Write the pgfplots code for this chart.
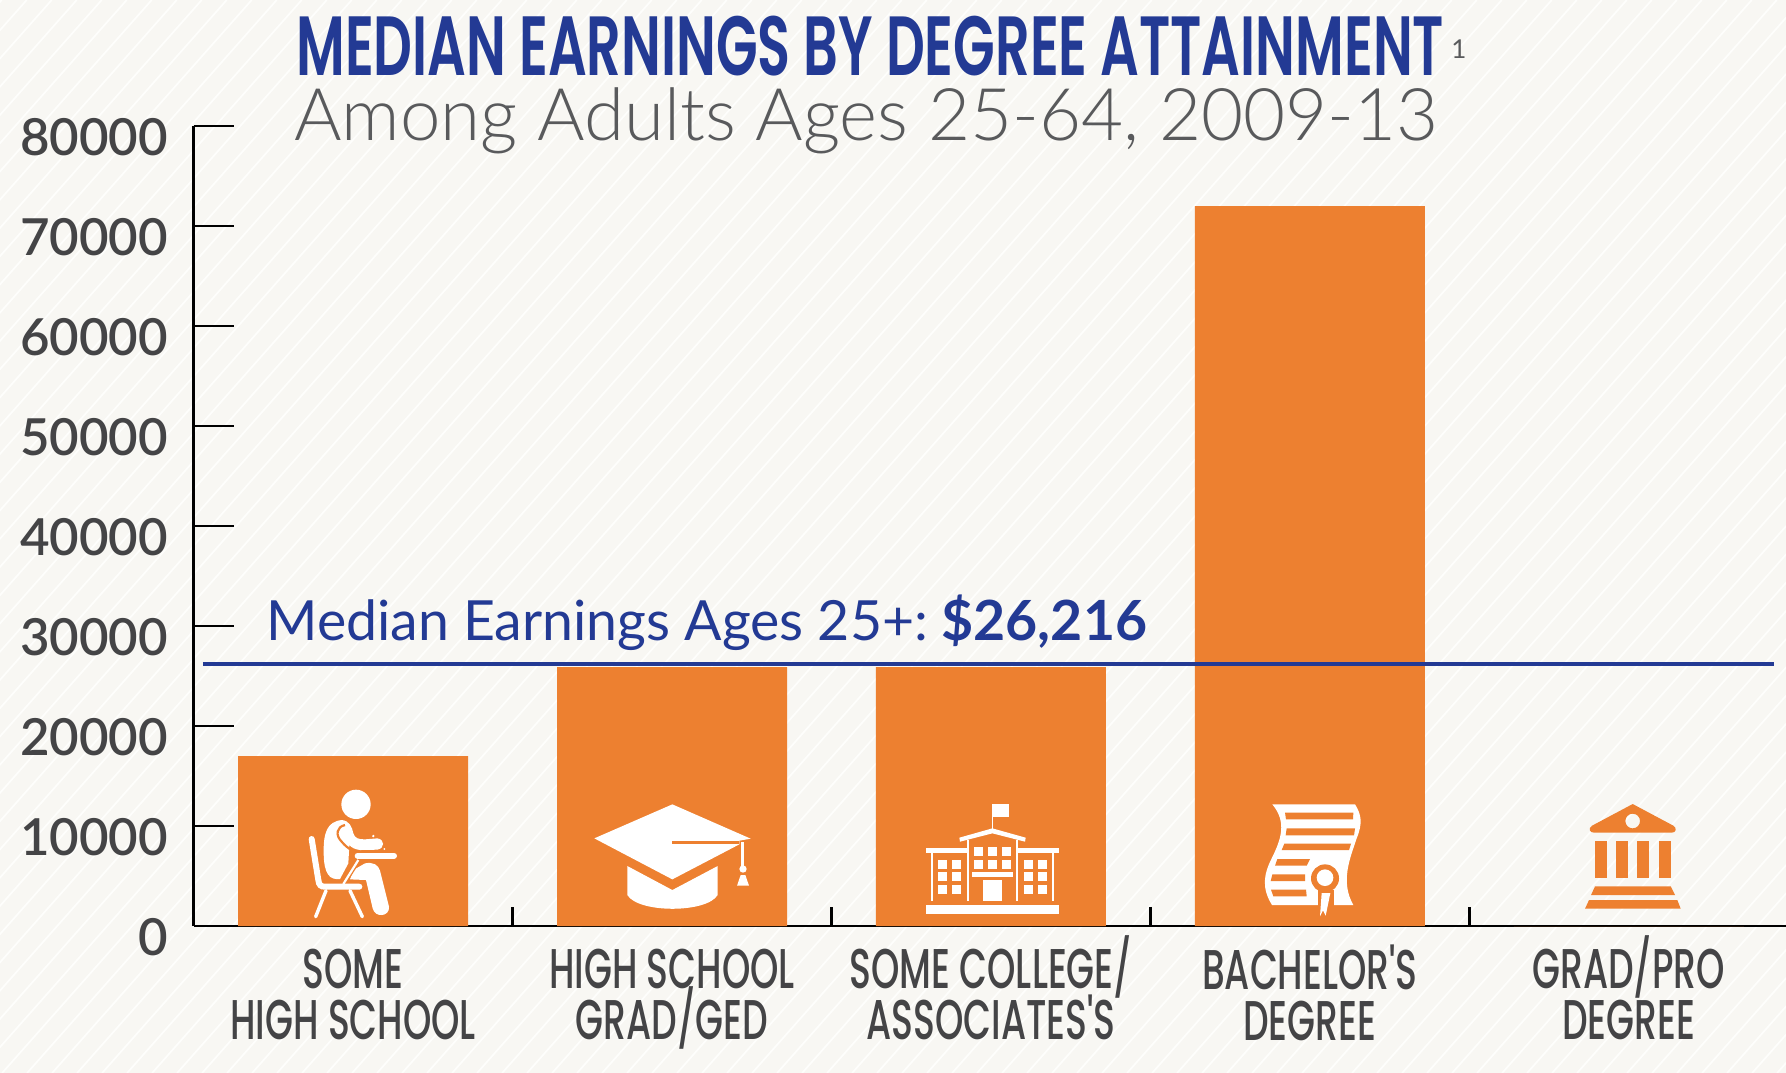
\documentclass[border=0pt]{standalone}
\usepackage{fontspec}
\usepackage{pgfplots}
\pgfplotsset{compat=1.18}

% condensed display face stands in for the rounded one of the original
\newfontfamily\titlefont[FakeStretch=0.645,UprightFont=* SemiBold]{Poppins}
\newfontfamily\catfont[FakeStretch=0.645,UprightFont=* Medium]{Poppins}
\newfontfamily\subfont[UprightFont=* Light]{Lato}
\newfontfamily\numfont[UprightFont=* Semibold]{Lato}
\newfontfamily\notefont{Lato}

\definecolor{paper}{HTML}{F8F7F3}
\definecolor{stripe}{HTML}{FEFEFC}
\definecolor{barorange}{HTML}{ED8030}
\definecolor{navy}{HTML}{233A94}
\definecolor{greytxt}{HTML}{595A5C}
\definecolor{darktxt}{HTML}{444446}

\pgfplotstableread{
x y
0 17000
1 25900
2 25900
3 72000
4 0
}\earnings

% two-line category label with fixed height, so the lines sit level across the axis
\newcommand\cat[2]{\rule{0pt}{22pt}#1\\#2\rule[-6pt]{0pt}{6pt}}
\newcommand\catslash{\smash{/}}

% icon scopes: zoom coordinates, 3 units to the reference pixel
\tikzset{icon/.style 2 args={shift={(#1*0.5pt,-#2*0.5pt)},x=0.16667pt,y=-0.16667pt}}

\begin{document}
\begin{tikzpicture}
% page and its stripes, in reference pixels
\begin{scope}[x=0.5pt,y=-0.5pt]
  \fill[paper] (0,0) rectangle (1786,1073);
  \clip (0,0) rectangle (1786,1073);
  \foreach \c in {1.7,26.7,...,2780}
    \draw[stripe,line width=0.85pt] (\c,0) -- (\c-949.6,1073);
\end{scope}

\begin{axis}[
  at={(96.85pt,-463pt)}, anchor=south west,
  scale only axis, width=797.25pt, height=400pt,
  xmin=-0.5, xmax=4.5, ymin=0, ymax=80000,
  axis x line*=bottom, axis y line*=left,
  axis line style={black,line width=1.25pt},
  tick align=inside,
  xtick={0,1,2,3,4},
  xticklabels={{\cat{SOME}{HIGH SCHOOL}},{\cat{HIGH SCHOOL}{GRAD\catslash GED}},{\cat{SOME COLLEGE\catslash}{ASSOCIATES'S}},{\cat{BACHELOR'S}{DEGREE}},{\cat{GRAD\catslash PRO}{DEGREE}}},
  minor xtick={0.5,1.5,2.5,3.5},
  major x tick style={draw=none},
  minor x tick style={black,line width=1.25pt},
  minor tick length=9.5pt,
  ytick={0,10000,...,80000},
  major y tick style={black,line width=1.25pt},
  major tick length=20pt,
  scaled y ticks=false,
  /pgf/number format/assume math mode=true,
  /pgf/number format/set thousands separator={},
  yticklabel style={font=\numfont\fontsize{25.5}{27}\selectfont,text=darktxt,xshift=-9.3pt,yshift=-5.7pt},
  xticklabel style={font=\catfont\fontsize{28}{25.4}\selectfont,text=darktxt,align=center,inner sep=0pt,anchor=north,yshift=-9.25pt},
]
\addplot[ybar,bar width=115pt,bar shift=0pt,fill=barorange,draw=none] table[x=x,y=y] {\earnings};
\addplot[navy,line width=2.3pt] coordinates {(-0.471,26216) (4.456,26216)};
\end{axis}

% titles
\begin{scope}[x=0.5pt,y=-0.5pt]
  \node[anchor=base west,inner sep=0pt,text=navy,font=\titlefont\fontsize{42}{44}\selectfont] at (296,75) {MEDIAN EARNINGS BY DEGREE ATTAINMENT};
  \node[anchor=base west,inner sep=0pt,text=greytxt,font=\notefont\fontsize{13}{14}\selectfont] at (1451,58) {1};
  \node[anchor=base west,inner sep=0pt,text=greytxt,font=\subfont\fontsize{36.3}{38}\selectfont] at (294,140) {Among Adults Ages 25-64, 2009-13};
  \node[anchor=base west,inner sep=0pt,text=navy,font=\notefont\fontsize{27.7}{30}\selectfont] at (266,640) {Median Earnings Ages 25+:\hspace{-0.1em} {\bfseries \$26,216}};
\end{scope}

% student at desk
\begin{scope}[icon={290}{780},white]
  \fill (198,73) circle[radius=44];
  \fill (101,220) .. controls (100,160) and (110,125) .. (155,120) .. controls (178,122) and (186,140) .. (190,160)
    .. controls (195,175) and (205,178) .. (225,178) -- (262,175) .. controls (285,178) and (285,205) .. (262,209)
    -- (210,210) .. controls (195,208) and (185,203) .. (178,195) -- (175,250) -- (150,297)
    .. controls (120,300) and (102,285) .. (101,220) -- cycle;
  \draw[barorange,line width=1.1pt] (165,135) .. controls (140,140) and (135,165) .. (155,185) .. controls (165,197) and (175,205) .. (185,210);
  \fill (190,270) -- (225,250) .. controls (250,245) and (265,255) .. (270,272) -- (297,380)
    .. controls (300,410) and (255,415) .. (248,385) -- (228,300) -- (180,298) -- cycle;
  \draw[barorange,line width=2.4pt] (205,240) -- (160,312);
  \draw[line width=1.1pt] (205,240) -- (160,312);
  \draw[line width=3pt,line cap=round] (65,177) -- (85,300) .. controls (87,315) and (92,320) .. (105,320) -- (208,320);
  \draw[line width=3pt,line cap=round] (203,227) -- (312,227);
  \draw[line width=1.7pt,line cap=round] (108,332) -- (77,410);
  \draw[line width=1.7pt,line cap=round] (180,332) -- (217,410);
  \fill (250,168) circle[radius=4];
  \fill (283,207) circle[radius=3];
\end{scope}

% mortarboard
\begin{scope}[icon={580}{790},white]
  \fill (43,145) -- (277,43) -- (512,146) -- (478,152) -- (478,163) -- (277,268) -- cycle;
  \fill[barorange] (277,152) rectangle (478,163);
  \fill (484,155) -- (493,155) -- (493,230) -- (484,230) -- cycle;
  \fill (489,237) circle[radius=11];
  \fill (482,255) -- (496,255) -- (507,287) -- (471,287) -- cycle;
  \fill (142,228) -- (277,300) -- (413,228) -- (413,315) .. controls (380,370) and (175,370) .. (142,315) -- cycle;
\end{scope}

% school building
\begin{scope}[icon={915}{795},white]
  \fill (33,330) rectangle (432,357);
  \fill (232,28) rectangle (282,65);
  \fill (230,65) rectangle (235,105);
  \fill (133,128) -- (232,100) -- (332,128) -- (330,140) -- (232,115) -- (135,140) -- cycle;
  \fill (155,135) rectangle (161,318);
  \fill (304,135) rectangle (310,318);
  \fill (33,158) rectangle (155,175);
  \fill (310,158) rectangle (432,175);
  \fill (48,175) rectangle (53,318);
  \fill (412,175) rectangle (417,318);
  \foreach \cx in {69,111,327,369}
    \foreach \cy in {195,231,270}
      \fill (\cx,\cy) rectangle ++(27,27);
  \foreach \cx in {177,219,261}
    \foreach \cy in {156,195}
      \fill (\cx,\cy) rectangle ++(27,27);
  \fill (171,231) rectangle (294,246);
  \fill (204,255) rectangle (261,318);
\end{scope}

% diploma
\begin{scope}[icon={1250}{795},white]
  \fill (67,28) -- (315,28) .. controls (335,60) and (338,85) .. (320,130) .. controls (300,190) and (270,260) .. (310,330)
    -- (66,330) .. controls (35,280) and (40,240) .. (65,190) .. controls (95,130) and (110,80) .. (67,28) -- cycle;
  \begin{scope}[barorange]
    \fill (105,53) -- (310,53) -- (309,73) -- (108,73) -- cycle;
    \fill (110,100) -- (315,100) -- (312,121) -- (107,121) -- cycle;
    \fill (103,146) -- (303,146) -- (297,165) -- (95,165) -- cycle;
    \fill (82,192) -- (180,192) -- (170,212) -- (75,212) -- cycle;
    \fill (67,238) -- (165,238) -- (165,258) -- (62,258) -- cycle;
    \fill (63,284) -- (168,284) -- (170,304) -- (70,304) -- cycle;
    \fill (225,250) circle[radius=42];
    \fill (205,285) -- (252,285) -- (252,345) -- (205,345) -- cycle;
  \end{scope}
  \fill (225,248) circle[radius=25];
  \fill (215,294) -- (241,294) -- (227,362) -- (219,346) -- (210,364) -- cycle;
\end{scope}

% classical building, no bar behind it
\begin{scope}[icon={1570}{795},barorange]
  \fill[even odd rule] (188,27) -- (310,92) .. controls (322,100) and (318,113) .. (305,113) -- (72,113)
    .. controls (58,113) and (54,100) .. (66,92) -- cycle (188,78) circle[radius=22];
  \foreach \cx in {75,138,201,267}
    \fill (\cx,138) rectangle ++(36,110);
  \fill (75,274) -- (302,274) -- (315,300) -- (63,300) -- cycle;
  \fill (57,315) -- (322,315) -- (332,341) -- (45,341) -- cycle;
\end{scope}

% the x axis runs off the right edge of the page
\pgfresetboundingbox
\useasboundingbox (0,0) rectangle (893pt,-536.3pt);
\end{tikzpicture}
\end{document}
